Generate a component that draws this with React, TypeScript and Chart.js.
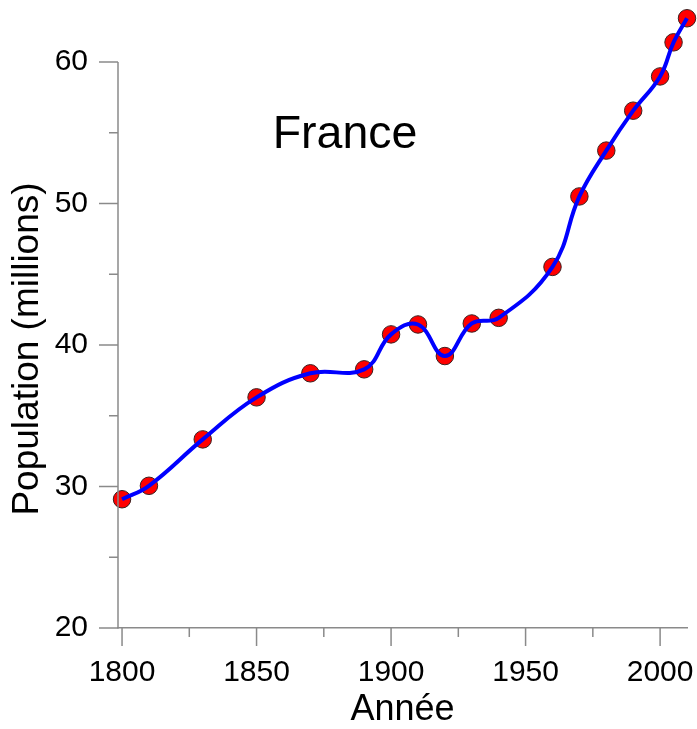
import { useEffect, useRef } from "react";
import { Chart, registerables } from "chart.js";

Chart.register(...registerables);

// ---- data ----
const years = [1800, 1810, 1830, 1850, 1870, 1890, 1900, 1910, 1920, 1930, 1940, 1960, 1970, 1980, 1990, 2000, 2005, 2010];
const population = [29.1, 30.05, 33.33, 36.3, 38.0, 38.28, 40.75, 41.45, 39.22, 41.52, 41.92, 45.52, 50.5, 53.74, 56.56, 58.98, 61.39, 63.09];

const xTickValues = [1800, 1825, 1850, 1875, 1900, 1925, 1950, 1975, 2000];
const xLabelValues = [1800, 1850, 1900, 1950, 2000];
const yTickValues = [20, 25, 30, 35, 40, 45, 50, 55, 60];
const yLabelValues = [20, 30, 40, 50, 60];

const chartTitle = "France";
const xTitle = "Année";
const yTitle = "Population (millions)";

const FONT = "'Liberation Sans', Arial, sans-serif";
const AXIS_COLOR = "#8a8a8a";

const tickPlugin = {
  id: "customTicks",
  afterDraw(chart: any) {
    const { ctx, scales, chartArea } = chart;
    const xs = scales.x;
    const ys = scales.y;
    const yTop = ys.getPixelForValue(yTickValues[yTickValues.length - 1]);
    const yBot = ys.getPixelForValue(yTickValues[0]);
    ctx.save();
    ctx.strokeStyle = AXIS_COLOR;
    ctx.lineWidth = 1.5;
    ctx.beginPath();
    // y axis line
    ctx.moveTo(chartArea.left, yTop);
    ctx.lineTo(chartArea.left, yBot + 0.75);
    for (const v of xTickValues) {
      const px = xs.getPixelForValue(v);
      const len = xLabelValues.includes(v) ? 18 : 9;
      ctx.moveTo(px, chartArea.bottom);
      ctx.lineTo(px, chartArea.bottom + len);
    }
    for (const v of yTickValues) {
      const py = ys.getPixelForValue(v);
      const len = yLabelValues.includes(v) ? 19 : 9;
      ctx.moveTo(chartArea.left, py);
      ctx.lineTo(chartArea.left - len, py);
    }
    ctx.stroke();
    // chart title inside plot area
    ctx.fillStyle = "#000";
    ctx.font = `46.5px ${FONT}`;
    ctx.textAlign = "center";
    ctx.textBaseline = "alphabetic";
    ctx.fillText(chartTitle, chartArea.left + 227, yTop + 86);
    // y axis title, centred on the drawn axis (20..60)
    ctx.save();
    ctx.translate(28, (yTop + yBot) / 2 + 4);
    ctx.rotate(-Math.PI / 2);
    ctx.font = `37px ${FONT}`;
    ctx.textAlign = "center";
    ctx.textBaseline = "middle";
    ctx.fillText(yTitle, 0, 0);
    ctx.restore();
    ctx.restore();
  },
};

export default function App() {
  const ref = useRef<HTMLCanvasElement | null>(null);

  useEffect(() => {
    if (!ref.current) return;
    const pts = years.map((y, i) => ({ x: y, y: population[i] }));
    const chart = new Chart(ref.current, {
      type: "line",
      data: {
        datasets: [
          {
            label: "curve",
            data: pts,
            borderColor: "#0000ff",
            borderWidth: 4,
            tension: 0.42,
            pointRadius: 0,
            fill: false,
            clip: false as any,
            order: 0,
          },
          {
            label: "points",
            data: pts,
            showLine: false,
            pointRadius: 8.75,
            pointBackgroundColor: "#ff0000",
            pointBorderColor: "#3a2020",
            pointBorderWidth: 1,
            clip: false as any,
            order: 1,
          },
        ],
      },
      options: {
        animation: false,
        responsive: false,
        devicePixelRatio: 1,
        layout: { autoPadding: false, padding: { left: 0, top: 5.4, right: 10, bottom: 0 } },
        plugins: {
          legend: { display: false },
          tooltip: { enabled: false },
          title: { display: false },
        },
        scales: {
          x: {
            type: "linear",
            min: 1798.5,
            max: 2010,
            grid: { display: false, drawTicks: false },
            border: { display: true, color: AXIS_COLOR, width: 1.5 },
            afterBuildTicks: (scale: any) => {
              scale.ticks = xTickValues.map((v) => ({ value: v }));
            },
            afterFit: (scale: any) => {
              scale.height = 101;
              scale.paddingLeft = 0;
              scale.paddingRight = 0;
            },
            ticks: {
              padding: 27,
              color: "#000",
              font: { family: FONT, size: 30 },
              maxRotation: 0,
              autoSkip: false,
              callback: (v: any) => (xLabelValues.includes(Number(v)) ? String(v) : ""),
            },
            title: {
              display: true,
              text: xTitle,
              color: "#000",
              font: { family: FONT, size: 36, lineHeight: 1 },
              padding: { top: 0, bottom: 0.5 },
            },
          },
          y: {
            type: "linear",
            min: 20,
            max: 64,
            grid: { display: false, drawTicks: false },
            border: { display: false },
            afterBuildTicks: (scale: any) => {
              scale.ticks = yTickValues.map((v) => ({ value: v }));
            },
            afterFit: (scale: any) => {
              scale.width = 118;
              scale.paddingTop = 0;
              scale.paddingBottom = 0;
            },
            ticks: {
              padding: 30,
              color: "#000",
              font: { family: FONT, size: 30 },
              autoSkip: false,
              callback: (v: any) => (yLabelValues.includes(Number(v)) ? String(v) : ""),
            },
            title: { display: false },
          },
        },
      },
      plugins: [tickPlugin],
    });
    return () => chart.destroy();
  }, []);

  return (
    <div style={{ position: "absolute", left: 0, top: 0, width: 697, height: 729, background: "#fff" }}>
      <canvas ref={ref} width={697} height={729} style={{ display: "block" }} />
    </div>
  );
}
